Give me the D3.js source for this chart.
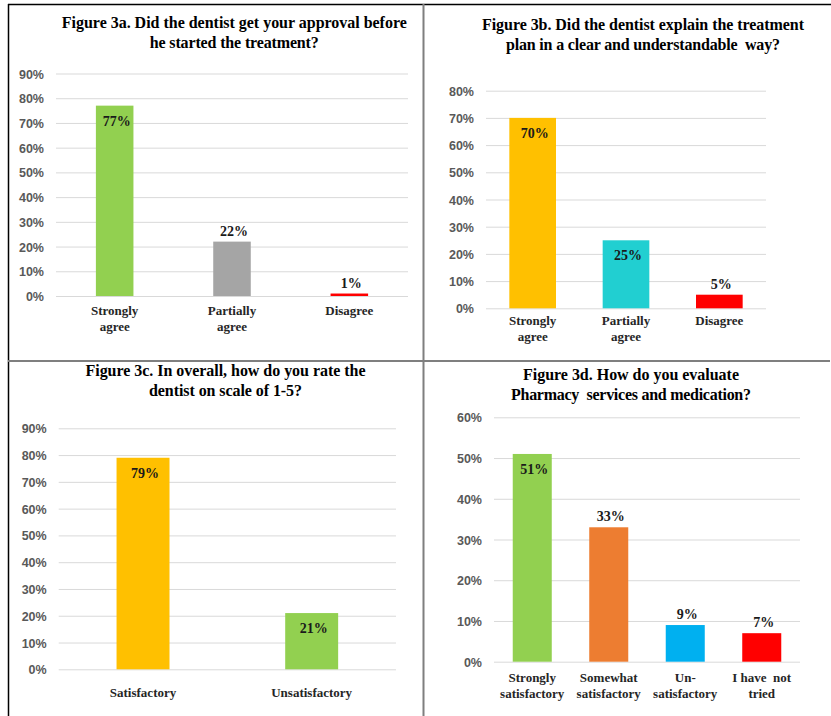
<!DOCTYPE html>
<html>
<head>
<meta charset="utf-8">
<script src="https://cdn.jsdelivr.net/npm/d3@7"></script>
<style>
  html, body { margin: 0; padding: 0; background: #fff; }
  svg { display: block; }
</style>
</head>
<body>
<svg id="chart" width="831" height="716"></svg>
<script>
// ---- Data ----
const titleA = ["Figure 3a. Did the dentist get your approval before", "he started the treatment?"];
const catsA = [["Strongly", "agree"], ["Partially", "agree"], ["Disagree"]];
const valuesA = [77, 22, 1];
const ticksA = [0, 10, 20, 30, 40, 50, 60, 70, 80, 90];
const colorsA = ["#92D050", "#A5A5A5", "#FF0000"];
const placeA = ["inside", "above", "above"];

const titleB = ["Figure 3b. Did the dentist explain the treatment", "plan in a clear and understandable  way?"];
const catsB = [["Strongly", "agree"], ["Partially", "agree"], ["Disagree"]];
const valuesB = [70, 25, 5];
const ticksB = [0, 10, 20, 30, 40, 50, 60, 70, 80];
const colorsB = ["#FFC000", "#21CFD1", "#FF0000"];
const placeB = ["inside", "inside", "above"];

const titleC = ["Figure 3c. In overall, how do you rate the", "dentist on scale of 1-5?"];
const catsC = [["Satisfactory"], ["Unsatisfactory"]];
const valuesC = [79, 21];
const ticksC = [0, 10, 20, 30, 40, 50, 60, 70, 80, 90];
const colorsC = ["#FFC000", "#92D050"];
const placeC = ["inside", "inside"];

const titleD = ["Figure 3d. How do you evaluate", "Pharmacy  services and medication?"];
const catsD = [["Strongly", "satisfactory"], ["Somewhat", "satisfactory"], ["Un-", "satisfactory"], ["I have  not", "tried"]];
const valuesD = [51, 33, 9, 7];
const ticksD = [0, 10, 20, 30, 40, 50, 60];
const colorsD = ["#92D050", "#ED7D31", "#00B0F0", "#FF0000"];
const placeD = ["inside", "above", "above", "above"];

// ---- Layout ----
const svg = d3.select("#chart");
const serif = "'Liberation Serif', 'Times New Roman', serif";
const sans = "'Liberation Sans', Arial, sans-serif";

function panel(cfg) {
  const g = svg.append("g");
  const x = d3.scaleBand()
    .domain(cfg.cats.map((d, i) => i))
    .range([cfg.x0, cfg.x1])
    .paddingInner(cfg.pad)
    .paddingOuter(cfg.pad / 2);
  const y = d3.scaleLinear()
    .domain([0, d3.max(cfg.ticks)])
    .range([cfg.yBottom, cfg.yTop]);

  // gridlines + tick labels via axis
  const axis = d3.axisLeft(y)
    .tickValues(cfg.ticks)
    .tickSize(-(cfg.x1 - cfg.x0))
    .tickFormat(d => d + "%");
  const ag = g.append("g")
    .attr("transform", `translate(${cfg.x0},0)`)
    .call(axis);
  ag.select(".domain").remove();
  ag.selectAll(".tick line").attr("stroke", "#D9D9D9").attr("stroke-width", 1);
  ag.selectAll(".tick text")
    .attr("x", -(cfg.x0 - cfg.tickRight))
    .attr("dy", "0.36em")
    .attr("fill", "#595959")
    .style("font-family", sans)
    .style("font-weight", "bold")
    .style("font-size", "12.5px");

  // bars
  g.selectAll("rect.bar")
    .data(cfg.values)
    .join("rect")
    .attr("class", "bar")
    .attr("x", (d, i) => x(i))
    .attr("width", x.bandwidth())
    .attr("y", d => y(d))
    .attr("height", d => y(0) - y(d))
    .attr("fill", (d, i) => cfg.colors[i]);

  // value labels
  g.selectAll("text.val")
    .data(cfg.values)
    .join("text")
    .attr("class", "val")
    .attr("x", (d, i) => x(i) + x.bandwidth() / 2 + 2)
    .attr("y", (d, i) => cfg.place[i] === "inside" ? y(d) + 20 : y(d) - 6)
    .attr("text-anchor", "middle")
    .style("font-family", serif)
    .style("font-weight", "bold")
    .style("font-size", "14px")
    .attr("fill", "#1a1a1a")
    .text(d => d + "%");

  // category labels
  cfg.cats.forEach((lines, i) => {
    const t = g.append("text")
      .attr("text-anchor", "middle")
      .style("font-family", serif)
      .style("font-weight", "bold")
      .style("font-size", "13px")
      .attr("fill", "#262626")
      .style("white-space", "pre");
    lines.forEach((ln, j) => {
      t.append("tspan")
        .attr("x", x(i) + x.bandwidth() / 2)
        .attr("y", cfg.yBottom + cfg.catDy + j * 16)
        .text(ln);
    });
  });

  // title
  cfg.title.forEach((ln, j) => {
    g.append("text")
      .attr("x", cfg.titleX)
      .attr("y", cfg.titleY + j * 20)
      .attr("text-anchor", "middle")
      .attr("textLength", cfg.titleW[j])
      .attr("lengthAdjust", "spacing")
      .style("font-family", serif)
      .style("font-weight", "bold")
      .style("font-size", "16px")
      .style("white-space", "pre")
      .attr("fill", "#000")
      .text(ln);
  });
}

panel({ title: titleA, cats: catsA, values: valuesA, ticks: ticksA, colors: colorsA, place: placeA,
  x0: 56, x1: 408, yBottom: 296, yTop: 73.5, pad: 0.68, tickRight: 44, catDy: 19,
  titleX: 234.3, titleY: 28, titleW: [345, 169] });
panel({ title: titleB, cats: catsB, values: valuesB, ticks: ticksB, colors: colorsB, place: placeB,
  x0: 486, x1: 766, yBottom: 308.3, yTop: 90.7, pad: 0.5, tickRight: 474, catDy: 17,
  titleX: 643, titleY: 30, titleW: [322, 274] });
panel({ title: titleC, cats: catsC, values: valuesC, ticks: ticksC, colors: colorsC, place: placeC,
  x0: 58.7, x1: 396, yBottom: 669.3, yTop: 428.3, pad: 0.686, tickRight: 46.7, catDy: 28,
  titleX: 225.5, titleY: 375.7, titleW: [280, 153] });
panel({ title: titleD, cats: catsD, values: valuesD, ticks: ticksD, colors: colorsD, place: placeD,
  x0: 494, x1: 800, yBottom: 661.7, yTop: 417.3, pad: 0.49, tickRight: 482, catDy: 20,
  titleX: 631, titleY: 380, titleW: [216, 240] });

// frame lines
svg.append("line").attr("x1", 8).attr("x2", 831).attr("y1", 4.5).attr("y2", 4.5).attr("stroke", "#000").attr("stroke-width", 1.5);
svg.append("line").attr("x1", 8.5).attr("x2", 8.5).attr("y1", 4).attr("y2", 716).attr("stroke", "#000").attr("stroke-width", 1.5);
svg.append("line").attr("x1", 423.5).attr("x2", 423.5).attr("y1", 4).attr("y2", 716).attr("stroke", "#7F7F7F").attr("stroke-width", 2);
svg.append("line").attr("x1", 8).attr("x2", 830).attr("y1", 361).attr("y2", 361).attr("stroke", "#7F7F7F").attr("stroke-width", 2);
</script>
</body>
</html>
